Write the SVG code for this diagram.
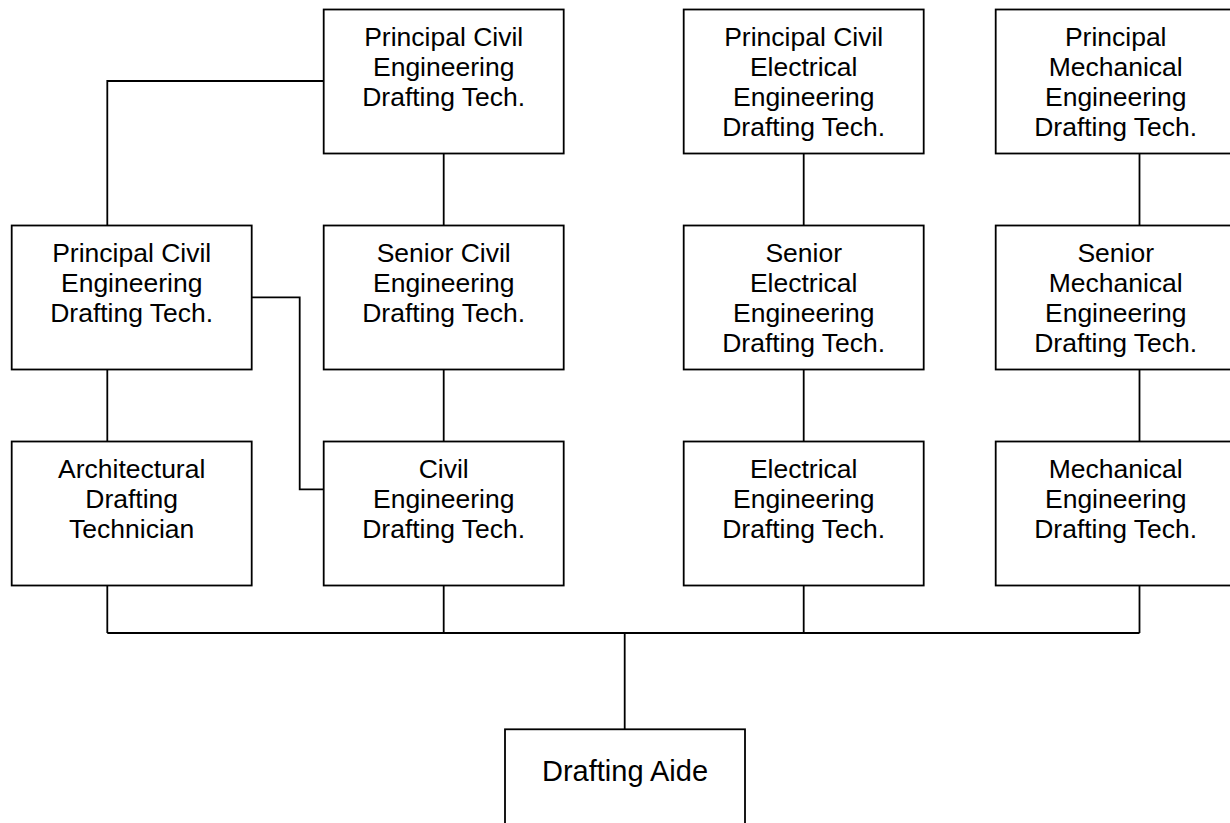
<svg xmlns="http://www.w3.org/2000/svg" width="1230" height="823" viewBox="0 0 1230 823">
<style>
.box{fill:#fff;stroke:#000;stroke-width:1.8}
.t{font-family:"Liberation Sans",Arial,sans-serif;font-size:26.5px;fill:#000;text-anchor:middle}
.big{font-size:29px}
.c{fill:none;stroke:#000;stroke-width:1.8}
</style>
<rect width="1230" height="823" fill="#fff"/>
<g id="connectors">
<path class="c" d="M323.7 81 H107.3 V225.5"/>
<path class="c" d="M443.7 153.5 V225.5"/>
<path class="c" d="M803.7 153.5 V225.5"/>
<path class="c" d="M1139.5 153.5 V225.5"/>
<path class="c" d="M107.3 369.5 V441.5"/>
<path class="c" d="M443.7 369.5 V441.5"/>
<path class="c" d="M803.7 369.5 V441.5"/>
<path class="c" d="M1139.5 369.5 V441.5"/>
<path class="c" d="M251.7 297.3 H299.7 V489.3 H323.7"/>
<path class="c" d="M107.3 585.5 V633 M443.7 585.5 V633 M803.7 585.5 V633 M1139.5 585.5 V633 M107.3 633 H1139.5"/>
<path class="c" d="M624.7 633 V729.3"/>
</g>
<g id="n1">
<rect class="box" x="323.7" y="9.5" width="240" height="144"/>
<text class="t" x="443.7" y="45.5">Principal Civil<tspan x="443.7" dy="30.2">Engineering</tspan><tspan x="443.7" dy="30.2">Drafting Tech.</tspan></text>
</g>
<g id="n2">
<rect class="box" x="683.7" y="9.5" width="240" height="144"/>
<text class="t" x="803.7" y="45.5">Principal Civil<tspan x="803.7" dy="30.2">Electrical</tspan><tspan x="803.7" dy="30.2">Engineering</tspan><tspan x="803.7" dy="30.2">Drafting Tech.</tspan></text>
</g>
<g id="n3">
<rect class="box" x="995.7" y="9.5" width="240" height="144"/>
<text class="t" x="1115.7" y="45.5">Principal<tspan x="1115.7" dy="30.2">Mechanical</tspan><tspan x="1115.7" dy="30.2">Engineering</tspan><tspan x="1115.7" dy="30.2">Drafting Tech.</tspan></text>
</g>
<g id="n4">
<rect class="box" x="11.7" y="225.5" width="240" height="144"/>
<text class="t" x="131.7" y="261.5">Principal Civil<tspan x="131.7" dy="30.2">Engineering</tspan><tspan x="131.7" dy="30.2">Drafting Tech.</tspan></text>
</g>
<g id="n5">
<rect class="box" x="323.7" y="225.5" width="240" height="144"/>
<text class="t" x="443.7" y="261.5">Senior Civil<tspan x="443.7" dy="30.2">Engineering</tspan><tspan x="443.7" dy="30.2">Drafting Tech.</tspan></text>
</g>
<g id="n6">
<rect class="box" x="683.7" y="225.5" width="240" height="144"/>
<text class="t" x="803.7" y="261.5">Senior<tspan x="803.7" dy="30.2">Electrical</tspan><tspan x="803.7" dy="30.2">Engineering</tspan><tspan x="803.7" dy="30.2">Drafting Tech.</tspan></text>
</g>
<g id="n7">
<rect class="box" x="995.7" y="225.5" width="240" height="144"/>
<text class="t" x="1115.7" y="261.5">Senior<tspan x="1115.7" dy="30.2">Mechanical</tspan><tspan x="1115.7" dy="30.2">Engineering</tspan><tspan x="1115.7" dy="30.2">Drafting Tech.</tspan></text>
</g>
<g id="n8">
<rect class="box" x="11.7" y="441.5" width="240" height="144"/>
<text class="t" x="131.7" y="477.5">Architectural<tspan x="131.7" dy="30.2">Drafting</tspan><tspan x="131.7" dy="30.2">Technician</tspan></text>
</g>
<g id="n9">
<rect class="box" x="323.7" y="441.5" width="240" height="144"/>
<text class="t" x="443.7" y="477.5">Civil<tspan x="443.7" dy="30.2">Engineering</tspan><tspan x="443.7" dy="30.2">Drafting Tech.</tspan></text>
</g>
<g id="n10">
<rect class="box" x="683.7" y="441.5" width="240" height="144"/>
<text class="t" x="803.7" y="477.5">Electrical<tspan x="803.7" dy="30.2">Engineering</tspan><tspan x="803.7" dy="30.2">Drafting Tech.</tspan></text>
</g>
<g id="n11">
<rect class="box" x="995.7" y="441.5" width="240" height="144"/>
<text class="t" x="1115.7" y="477.5">Mechanical<tspan x="1115.7" dy="30.2">Engineering</tspan><tspan x="1115.7" dy="30.2">Drafting Tech.</tspan></text>
</g>
<g id="n12">
<rect class="box" x="505" y="729.3" width="240" height="144"/>
<text class="t big" x="625" y="781">Drafting Aide</text>
</g>
</svg>
